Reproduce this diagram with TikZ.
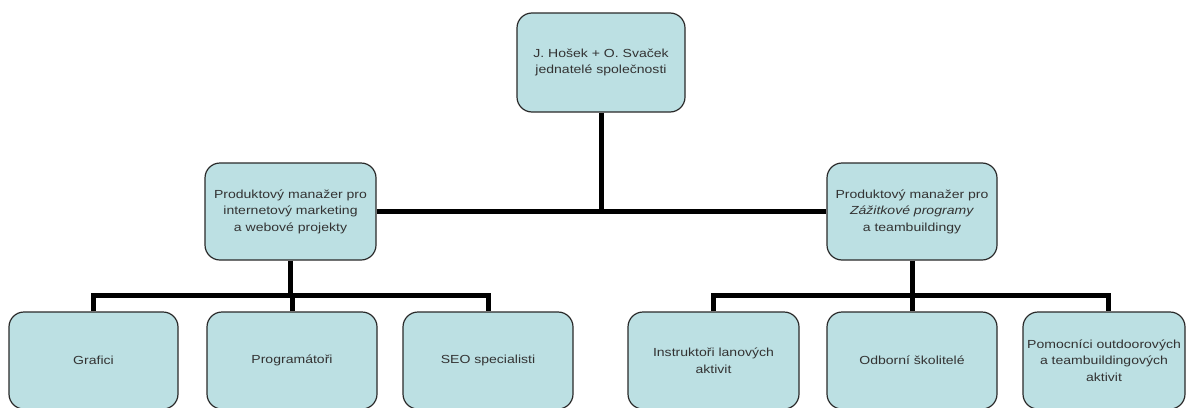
\documentclass[tikz,border=0pt]{standalone}
\usepackage{fontspec}
\setmainfont{Liberation Sans}[FakeStretch=1.2]
\definecolor{boxfill}{HTML}{BCE0E3}
\definecolor{boxline}{HTML}{2A2A2A}
\definecolor{txt}{HTML}{333333}
\tikzset{
  orgbox/.style={draw=boxline, line width=1.2pt, fill=boxfill, rounded corners=15pt,
    minimum height=97pt, inner sep=2pt, align=center, text=txt,
    font=\fontsize{11.7}{16.5}\selectfont},
  conn/.style={draw=black, line width=5pt}
}
\begin{document}
\begin{tikzpicture}[x=1pt,y=-1pt]
\useasboundingbox (0,0) rectangle (1188,407);
\fill[white] (0,0) rectangle (1188,407);
% connectors first (behind boxes)
\node[orgbox, minimum width=168pt, minimum height=99pt] (top) at (601,62.5) {J. Hošek + O. Svaček\\jednatelé společnosti};
\node[orgbox, minimum width=171pt] (midL) at (290.5,211.5) {Produktový manažer pro\\internetový marketing\\ a webové projekty};
\node[orgbox, minimum width=170pt] (midR) at (912,211.5) {Produktový manažer pro\\\textit{Zážitkové programy}\\a teambuildingy};
\node[orgbox, minimum width=169pt] (g) at (93.5,360.5) {Grafici};
\node[orgbox, minimum width=170pt] (p) at (292,360.5) {Programátoři};
\node[orgbox, minimum width=170pt] (s) at (488,360.5) {SEO specialisti};
\node[orgbox, minimum width=171pt] (i) at (713.5,360.5) {Instruktoři lanových\\aktivit};
\node[orgbox, minimum width=170pt] (o) at (912,360.5) {Odborní školitelé};
\node[orgbox, minimum width=162pt] (pm) at (1104,360.5) {Pomocníci outdoorových\\a teambuildingových\\aktivit};
\coordinate (lbar) at (290.5,295);
\coordinate (rbar) at (912,295);
\begin{scope}[on background layer/.try]
\end{scope}
\draw[conn] (top.south) -- (top.south |- midL.east);
\draw[conn] (midL.east) -- (midR.west);
\draw[conn] (midL.south) -- (lbar);
\draw[conn] (g.north) -- (g.north |- lbar) -- (s.north |- lbar) -- (s.north);
\draw[conn] (p.north) -- (p.north |- lbar);
\draw[conn] (midR.south) -- (rbar);
\draw[conn] (i.north) -- (i.north |- rbar) -- (1108,295) -- (pm.north -| 1108,0);
\draw[conn] (o.north) -- (o.north |- rbar);
\end{tikzpicture}
\end{document}
